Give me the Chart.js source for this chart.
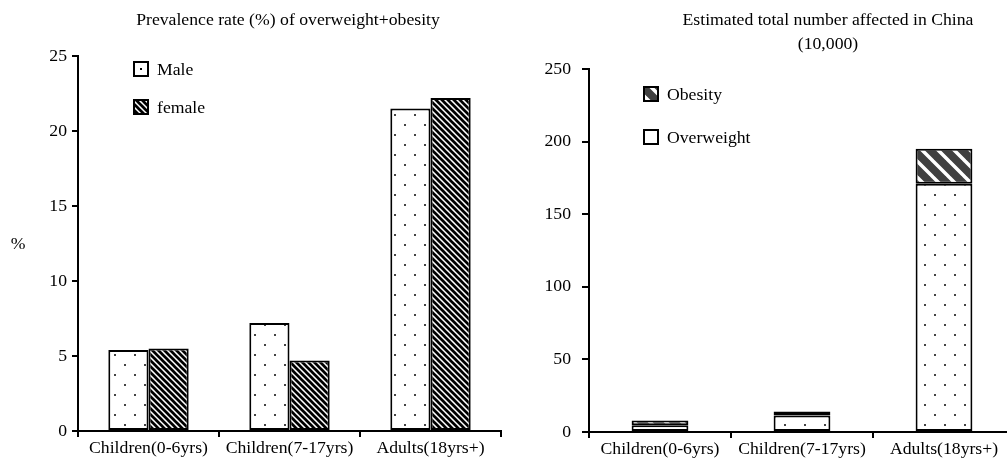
<!DOCTYPE html>
<html>
<head>
<meta charset="utf-8">
<script src="https://cdn.jsdelivr.net/npm/chart.js@4.4.1/dist/chart.umd.min.js"></script>
<style>
html, body { margin: 0; padding: 0; background: #fff; overflow: hidden; width: 1007px; height: 464px; }
#left { position: absolute; left: 0; top: 0; }
#right { position: absolute; left: 500px; top: 0; }
</style>
</head>
<body>
<canvas id="left" width="576" height="464"></canvas>
<canvas id="right" width="656" height="464"></canvas>
<script>
// data
const categories = ['Children(0-6yrs)', 'Children(7-17yrs)', 'Adults(18yrs+)'];
const maleRate = [5.4, 7.2, 21.5];
const femaleRate = [5.5, 4.7, 22.2];
const overweightNum = [4.7, 11.4, 171];
const obesityNum = [3.2, 2.8, 24];
const rateTicks = [0, 5, 10, 15, 20, 25];
const numberTicks = [0, 50, 100, 150, 200, 250];
const leftTitle = ['Prevalence rate (%) of overweight+obesity'];
const rightTitle = ['Estimated total number affected in China', '(10,000)'];

const FONT = '"Liberation Serif", "Times New Roman", serif';
const FSIZE = 17.7;

/*===== patterns =====*/
function dotPattern() {
    var c = document.createElement('canvas');
    c.width = 20; c.height = 20;
    var g = c.getContext('2d');
    g.fillStyle = '#fff';
    g.fillRect(0, 0, 20, 20);
    g.fillStyle = '#444';
    g.fillRect(4, 4, 2, 2);
    g.fillRect(14, 14, 2, 2);
    return g.createPattern(c, 'repeat');
}

function stripePattern(size, bg, fg, lw) {
    var c = document.createElement('canvas');
    c.width = size; c.height = size;
    var g = c.getContext('2d');
    g.fillStyle = bg;
    g.fillRect(0, 0, size, size);
    g.strokeStyle = fg;
    g.lineWidth = lw;
    g.beginPath();
    [-size, 0, size].forEach(function(k) {
        g.moveTo(k - 1, -1);
        g.lineTo(k + size + 1, size + 1);
    });
    g.stroke();
    return g.createPattern(c, 'repeat');
}

const dots = dotPattern();
const hatch = stripePattern(6, '#fff', '#000', 2.7);
const darkHatch = stripePattern(16, '#404040', '#fff', 3.5);

// titles, % label and the in-plot legend
const overlay = {
    id: 'overlay',
    afterDraw: function(chart, args, opts) {
        var ctx = chart.ctx;
        ctx.save();
        ctx.font = FSIZE + 'px ' + FONT;
        ctx.fillStyle = '#000';
        ctx.textAlign = 'center';
        ctx.textBaseline = 'middle';
        opts.title.forEach(function(line, i) {
            ctx.fillText(line, opts.titleX, 20 + i * 24);
        });
        if (opts.axisNote) ctx.fillText(opts.axisNote.text, opts.axisNote.x, opts.axisNote.y);

        ctx.textAlign = 'left';
        opts.legendOrder.forEach(function(idx, i) {
            var ds = chart.data.datasets[idx];
            var x = opts.legendX, y = opts.legendY + i * opts.legendGap;
            ctx.fillStyle = ds.swatch === 'fill' ? ds.backgroundColor : '#fff';
            ctx.fillRect(x, y, 14, 14);
            if (ds.swatch === 'dot') {
                ctx.fillStyle = '#000';
                ctx.fillRect(x + 6, y + 6, 2, 2);
            }
            ctx.strokeStyle = '#000';
            ctx.lineWidth = 2;
            ctx.strokeRect(x, y, 14, 14);
            ctx.fillStyle = '#000';
            ctx.fillText(ds.label, x + 23, y + 8);
        });
        ctx.restore();
    }
};

function axes(ticks, max, yWidth, xHeight, tickLen, tickPad) {
    return {
        x: {
            afterFit: function(s) { s.height = xHeight; },
            grid: { drawOnChartArea: false, color: '#000', lineWidth: 2, tickLength: 6 },
            border: { color: '#000', width: 2 },
            ticks: { color: '#000', font: { family: FONT, size: FSIZE }, padding: 1, maxRotation: 0, autoSkip: false }
        },
        y: {
            min: 0,
            max: max,
            afterFit: function(s) { s.width = yWidth; },
            afterBuildTicks: function(s) { s.ticks = ticks.map(function(v) { return { value: v }; }); },
            grid: { drawOnChartArea: false, color: '#000', lineWidth: 2, tickLength: tickLen },
            border: { color: '#000', width: 2 },
            ticks: { color: '#000', font: { family: FONT, size: FSIZE }, padding: tickPad }
        }
    };
}

/*===== left chart =====*/
new Chart(document.getElementById('left'), {
    type: 'bar',
    data: {
        labels: categories,
        datasets: [{
            label: 'Male',
            data: maleRate,
            backgroundColor: dots,
            borderColor: '#000',
            borderWidth: 2,
            borderSkipped: false,
            swatch: 'dot'
        }, {
            label: 'female',
            data: femaleRate,
            backgroundColor: hatch,
            borderColor: '#000',
            borderWidth: 2,
            borderSkipped: false,
            swatch: 'fill'
        }]
    },
    options: {
        responsive: false,
        animation: false,
        layout: { padding: { top: 56, right: 75, left: 0, bottom: 0 } },
        categoryPercentage: 0.57,
        barPercentage: 1,
        scales: axes(rateTicks, 25, 78, 33, 6, 5),
        plugins: {
            legend: { display: false },
            tooltip: { enabled: false },
            overlay: {
                title: leftTitle,
                titleX: 288,
                axisNote: { text: '%', x: 18, y: 244 },
                legendOrder: [0, 1],
                legendX: 134,
                legendY: 62,
                legendGap: 38
            }
        }
    },
    plugins: [overlay]
});

/*===== right chart =====*/
new Chart(document.getElementById('right'), {
    type: 'bar',
    data: {
        labels: categories,
        datasets: [{
            label: 'Overweight',
            data: overweightNum,
            backgroundColor: dots,
            borderColor: '#000',
            borderWidth: 2,
            borderSkipped: false,
            swatch: 'empty'
        }, {
            label: 'Obesity',
            data: obesityNum,
            backgroundColor: darkHatch,
            borderColor: '#000',
            borderWidth: 2,
            borderSkipped: false,
            swatch: 'fill'
        }]
    },
    options: {
        responsive: false,
        animation: false,
        layout: { padding: { top: 69, right: 141, left: 0, bottom: 0 } },
        categoryPercentage: 0.4,
        barPercentage: 1,
        scales: (function() {
            var s = axes(numberTicks, 250, 89, 32, 7, 11);
            s.x.stacked = true;
            s.y.stacked = true;
            return s;
        })(),
        plugins: {
            legend: { display: false },
            tooltip: { enabled: false },
            overlay: {
                title: rightTitle,
                titleX: 328,
                legendOrder: [1, 0],
                legendX: 144,
                legendY: 87,
                legendGap: 43
            }
        }
    },
    plugins: [overlay]
});
</script>
</body>
</html>
